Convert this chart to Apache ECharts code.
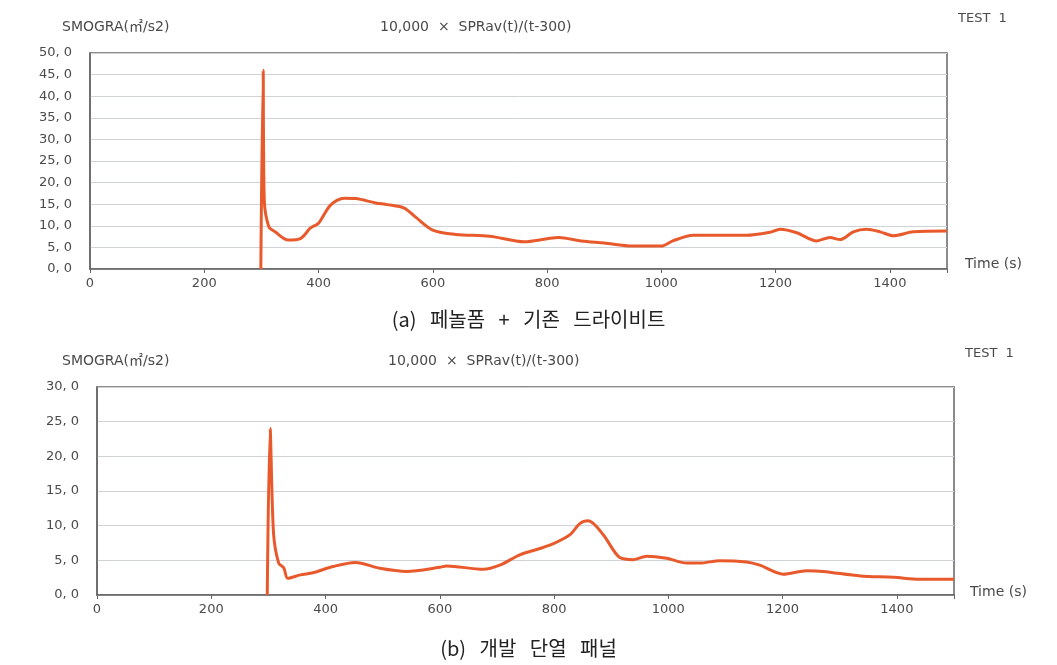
<!DOCTYPE html>
<html>
<head>
<meta charset="utf-8">
<script src="https://cdn.jsdelivr.net/npm/echarts@6/dist/echarts.min.js"></script>
<style>
html,body{margin:0;padding:0;background:#fff;}
#c{width:1057px;height:665px;}
</style>
</head>
<body>
<div id="c"></div>
<script>
// Panel (a): 페놀폼 + 기존 드라이비트
var timeA = [299, 303, 305, 313, 324, 347, 369, 386, 400, 421, 445, 465, 500, 520, 550, 570, 600, 640, 700, 760, 800, 820, 860, 900, 950, 1000, 1020, 1056, 1100, 1149, 1190, 1208, 1237, 1272, 1295, 1313, 1336, 1359, 1383, 1406, 1441, 1500];
var valA  = [0, 46.0, 16.0, 9.8, 8.6, 6.7, 7.1, 9.5, 10.6, 14.8, 16.4, 16.3, 15.3, 14.9, 14.1, 12.0, 9.0, 8.0, 7.6, 6.3, 7.0, 7.3, 6.5, 6.0, 5.3, 5.3, 6.5, 7.8, 7.8, 7.8, 8.5, 9.2, 8.4, 6.5, 7.3, 6.8, 8.6, 9.2, 8.6, 7.7, 8.6, 8.8];
// Panel (b): 개발 단열 패널
var timeB = [298, 303, 309, 318, 327, 334, 356, 378, 413, 452, 495, 542, 600, 612, 676, 705, 740, 775, 799, 828, 845, 860, 886, 915, 939, 962, 997, 1032, 1055, 1090, 1137, 1160, 1201, 1242, 1271, 1336, 1394, 1440, 1500];
var valB  = [0, 24.0, 8.9, 4.6, 3.9, 2.4, 2.9, 3.2, 4.1, 4.7, 3.85, 3.4, 4.0, 4.2, 3.7, 4.3, 5.8, 6.7, 7.4, 8.7, 10.3, 10.7, 8.7, 5.4, 5.1, 5.6, 5.3, 4.6, 4.6, 4.95, 4.76, 4.3, 3.0, 3.5, 3.4, 2.74, 2.55, 2.26, 2.26];
var xTicks = [0, 200, 400, 600, 800, 1000, 1200, 1400];
var yMaxA = 50, yMaxB = 30, yStep = 5;
var axisTitle = 'SMOGRA(㎡/s2)';
var formulaTitle = '10,000  ×  SPRav(t)/(t-300)';
var testLabel = 'TEST  1';
var xName = 'Time (s)';
var captionA = '(a)   페놀폼   +   기존   드라이비트';
var captionB = '(b)   개발   단열   패널';

function pairs(t, v){ return t.map(function(x,i){ return [x, v[i]]; }); }

var FONT = '"DejaVu Sans", "Noto Sans CJK KR", sans-serif';
var lineColor = '#e85a2c';
var txt = '#4a4a4a';

function xAxisCfg(idx){
  return {
    type: 'value', gridIndex: idx, min: 0, max: 1500, interval: 200,
    axisLine: {show: true, lineStyle: {color: '#666', width: 1.5}},
    axisTick: {show: true, length: 4, lineStyle: {color: '#666'}},
    axisLabel: {color: txt, fontFamily: FONT, fontSize: 13, margin: 8,
      formatter: function(v){ return xTicks.indexOf(v) >= 0 ? String(v) : ''; }},
    splitLine: {show: false}
  };
}
function yAxisCfg(idx, max){
  return {
    type: 'value', gridIndex: idx, min: 0, max: max, interval: yStep,
    axisLine: {show: true, lineStyle: {color: '#666', width: 1.5}},
    axisTick: {show: false},
    axisLabel: {color: txt, fontFamily: FONT, fontSize: 13, margin: 18,
      formatter: function(v){ return v.toFixed(1).replace('.', ', '); }},
    splitLine: {show: true, lineStyle: {color: '#cfd3d8', width: 1}}
  };
}

var chart = echarts.init(document.getElementById('c'));
chart.setOption({
  backgroundColor: '#fff',
  animation: false,
  grid: [
    {left: 90, right: 110, top: 53, height: 216, show: true, borderColor: '#666', borderWidth: 1.5, backgroundColor: 'transparent'},
    {left: 97, right: 103, top: 387, height: 208, show: true, borderColor: '#666', borderWidth: 1.5, backgroundColor: 'transparent'}
  ],
  xAxis: [xAxisCfg(0), xAxisCfg(1)],
  yAxis: [yAxisCfg(0, yMaxA), yAxisCfg(1, yMaxB)],
  graphic: [
    {type: 'text', left: 62, top: 20, style: {text: axisTitle, fill: txt, font: '14px ' + FONT}},
    {type: 'text', left: 380, top: 20, style: {text: formulaTitle, fill: txt, font: '14px ' + FONT}},
    {type: 'text', left: 958, top: 12, style: {text: testLabel, fill: txt, font: '13px ' + FONT}},
    {type: 'text', left: 965, top: 257, style: {text: xName, fill: txt, font: '14px ' + FONT}},
    {type: 'text', left: 'center', top: 309, style: {text: captionA, fill: '#222', font: '20px "Noto Sans CJK KR", sans-serif'}},
    {type: 'text', left: 62, top: 354, style: {text: axisTitle, fill: txt, font: '14px ' + FONT}},
    {type: 'text', left: 388, top: 354, style: {text: formulaTitle, fill: txt, font: '14px ' + FONT}},
    {type: 'text', left: 965, top: 347, style: {text: testLabel, fill: txt, font: '13px ' + FONT}},
    {type: 'text', left: 970, top: 585, style: {text: xName, fill: txt, font: '14px ' + FONT}},
    {type: 'text', left: 'center', top: 638, style: {text: captionB, fill: '#222', font: '20px "Noto Sans CJK KR", sans-serif'}}
  ],
  series: [
    {type: 'line', xAxisIndex: 0, yAxisIndex: 0, data: pairs(timeA, valA), showSymbol: false, smooth: 0.3,
     lineStyle: {color: lineColor, width: 3}, clip: true},
    {type: 'line', xAxisIndex: 1, yAxisIndex: 1, data: pairs(timeB, valB), showSymbol: false, smooth: 0.3,
     lineStyle: {color: lineColor, width: 3}, clip: true}
  ]
});
</script>
</body>
</html>
